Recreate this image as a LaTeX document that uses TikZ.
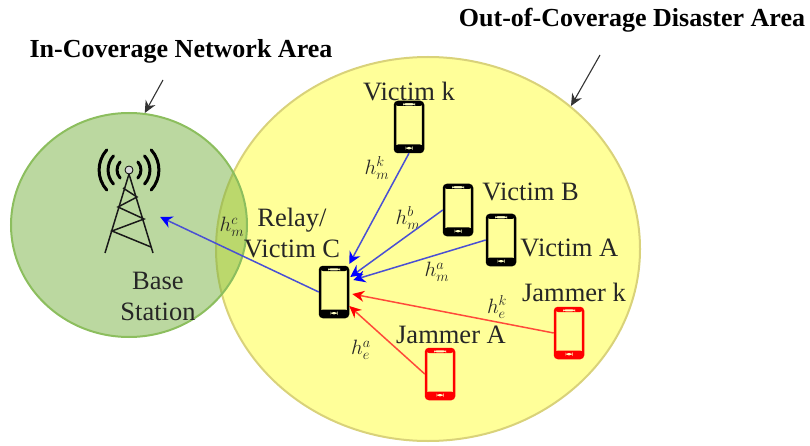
\documentclass[tikz,border=0pt]{standalone}
\usepackage{fontspec}
\setmainfont{Liberation Serif}
\usepackage{tikz}
\usetikzlibrary{shapes,arrows,arrows.meta,positioning}
\definecolor{AreaYellow}{HTML}{FFFF99}
\definecolor{AreaEdge}{HTML}{D9D27A}
\definecolor{AreaGreen}{HTML}{78B241}
\definecolor{LinkBlue}{HTML}{4A50D4}
\definecolor{LinkRed}{HTML}{FF4A3A}
\tikzstyle{Area} = [ellipse, inner sep=0pt, line width=2pt]
\tikzstyle{Text} = [inner sep=0pt, align=center, font=\fontsize{26.5}{31}\selectfont, text=black!85]
\tikzstyle{Title} = [inner sep=0pt, font=\fontsize{26}{30}\selectfont\bfseries]
\tikzstyle{Gain} = [inner sep=0pt, font=\fontsize{22}{24}\selectfont, text=black!85]
\tikzstyle{Pointer} = [-{Stealth[length=12pt,width=11pt]}, line width=1.1pt, black!80]
\tikzstyle{BlueLink} = [-{Stealth[length=12pt,width=12pt,color=blue]}, line width=1.5pt, LinkBlue]
\tikzstyle{RedLink} = [-{Stealth[length=12pt,width=11pt,color=red]}, line width=1.5pt, LinkRed]
\tikzstyle{Mast} = [line width=1.5pt, black!90]
\tikzstyle{Wave} = [line width=3pt, line cap=round, black]
\tikzset{
  Phone/.style={draw=#1, rectangle, rounded corners=3pt, line width=2.5pt, inner sep=0pt,
    minimum width=28pt, minimum height=50pt,
    path picture={
      \fill[#1] ([yshift=7.5pt]path picture bounding box.south west) rectangle (path picture bounding box.south east);
      \fill[#1] ([yshift=-4pt]path picture bounding box.north west) rectangle (path picture bounding box.north east);
      \fill[AreaYellow!60] ([xshift=-3.5pt,yshift=2.7pt]path picture bounding box.south) rectangle ([xshift=3.5pt,yshift=5pt]path picture bounding box.south);
      \fill[AreaYellow!60] ([xshift=-6pt,yshift=-1pt]path picture bounding box.north) rectangle ([xshift=6pt,yshift=-3.4pt]path picture bounding box.north);
    }}
}
\begin{document}
\begin{tikzpicture}[x=1pt,y=-1pt]
    \useasboundingbox (0,0) rectangle (810,446);
    % coverage areas
    \node[Area, draw=AreaEdge, fill=AreaYellow, minimum width=424pt, minimum height=384pt] (disaster) at (428,249) {};
    \node[Area, draw=AreaGreen!85!white, fill=AreaGreen, fill opacity=0.5, minimum width=236pt, minimum height=224pt] (network) at (129,225) {};
    % base station
    \node[inner sep=0pt, minimum width=62pt, minimum height=84pt] (tower) at (129,217) {};
    \draw[Mast] (105,253) -- (129,174) -- (153,253);
    \draw[Mast] (123,188) -- (137,197) -- (118,207) -- (144,219) -- (112,231) -- (151,247);
    \draw[line width=.8pt, fill=black!15] (129,170) circle (4pt);
    \foreach \r in {12,21,30} {
      \draw[Wave] (129-\r*0.74,170-\r*0.67) arc[start angle=138, end angle=222, radius=\r pt];
      \draw[Wave] (129+\r*0.74,170-\r*0.67) arc[start angle=42, end angle=-42, radius=\r pt];
    }
    % phones
    \node[Phone=black] (relay)   at (334,292) {};
    \node[Phone=black] (victimk) at (409,127) {};
    \node[Phone=black] (victimb) at (458,210) {};
    \node[Phone=black] (victima) at (501,240) {};
    \node[Phone=red]   (jammerk) at (569,333) {};
    \node[Phone=red]   (jammera) at (440,374) {};
    % labels
    \node[Text] (l_victimk) [above=0pt of victimk] {Victim k};
    \node[Text] (l_victimb) [right=9pt of victimb, yshift=18pt] {Victim B};
    \node[Text] (l_victima) [right=4pt of victima, yshift=-8pt] {Victim A};
    \node[Text] (l_jammerk) [above=5pt of jammerk, xshift=5pt] {Jammer k};
    \node[Text] (l_jammera) [above=4pt of jammera, xshift=11pt] {Jammer A};
    \node[Text] (l_relay)   at (292,233) {Relay/\\Victim C};
    \node[Text] (l_base)    at (158,296) {Base\\Station};
    \node[Title] (t_network) at (181,51) {In-Coverage Network Area};
    \node[Title] (t_disaster) at (632,20) {Out-of-Coverage Disaster Area};
    % channel gains
    \node[Gain] (h_k)  at (377,168) {$h_m^k$};
    \node[Gain] (h_b)  at (408,218) {$h_m^b$};
    \node[Gain] (h_a)  at (437,272) {$h_m^a$};
    \node[Gain] (h_c)  at (232,227) {$h_m^c$};
    \node[Gain] (h_ek) at (497,307) {$h_e^k$};
    \node[Gain] (h_ea) at (361,350) {$h_e^a$};
    % links
    \draw[BlueLink] (victimk.south) to ([yshift=28pt]relay.east);
    \draw[BlueLink] (victimb.west)  to ([yshift=15pt,xshift=1pt]relay.east);
    \draw[BlueLink] (victima.west)  to ([yshift=12pt,xshift=4pt]relay.east);
    \draw[BlueLink] (relay.west)    to (tower.east);
    \draw[RedLink]  (jammerk.west)  to ([yshift=-2pt,xshift=3pt]relay.east);
    \draw[RedLink]  (jammera.west)  to ([yshift=-14pt]relay.east);
    % pointers
    \coordinate (p_network)  at (163,80);
    \coordinate (p_disaster) at (600,55);
    \draw[Pointer] (p_network)  to (network.82);
    \draw[Pointer] (p_disaster) to (disaster.45);
\end{tikzpicture}
\end{document}
